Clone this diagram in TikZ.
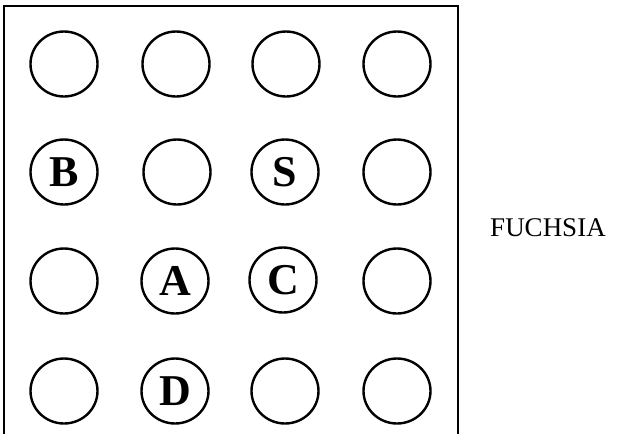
\documentclass[tikz,border=0pt]{standalone}
\usepackage{fontspec}
\setmainfont{Liberation Serif}
\usetikzlibrary{shapes.geometric}
\tikzset{
  hole/.style={draw, ellipse, line width=2.4pt, minimum width=67pt, minimum height=65pt, inner sep=0pt,
    font=\fontsize{44}{44}\selectfont\bfseries},
  frameline/.style={line width=1.8pt},
  caption/.style={font=\fontsize{27}{27}\selectfont, inner sep=0pt}
}
\begin{document}
\begin{tikzpicture}[x=1pt,y=-1pt]
\useasboundingbox (0,0) rectangle (619,434);
% frame (open at the bottom)
\coordinate (fbl) at (4,434);
\coordinate (ftl) at (4,6);
\coordinate (ftr) at (458,6);
\coordinate (fbr) at (458,434);
\draw[frameline] (fbl) -- (ftl) -- (ftr) -- (fbr);
% row 1
\node[hole] (r1c1) at (64,64) {};
\node[hole] (r1c2) at (176,64) {};
\node[hole] (r1c3) at (286,64) {};
\node[hole] (r1c4) at (397,64) {};
% row 2
\node[hole] (r2c1) at (64,172) {B};
\node[hole] (r2c2) at (177,172) {};
\node[hole] (r2c3) at (285,172) {S};
\node[hole] (r2c4) at (397,172) {};
% row 3
\node[hole] (r3c1) at (64,281) {};
\node[hole] (r3c2) at (175,281) {A};
\node[hole] (r3c3) at (283,280) {C};
\node[hole] (r3c4) at (397,281) {};
% row 4
\node[hole] (r4c1) at (64,391) {};
\node[hole] (r4c2) at (175,391) {D};
\node[hole] (r4c3) at (285,391) {};
\node[hole] (r4c4) at (397,391) {};
% label
\node[caption] (label) at (548,228) {FUCHSIA};
\end{tikzpicture}
\end{document}
